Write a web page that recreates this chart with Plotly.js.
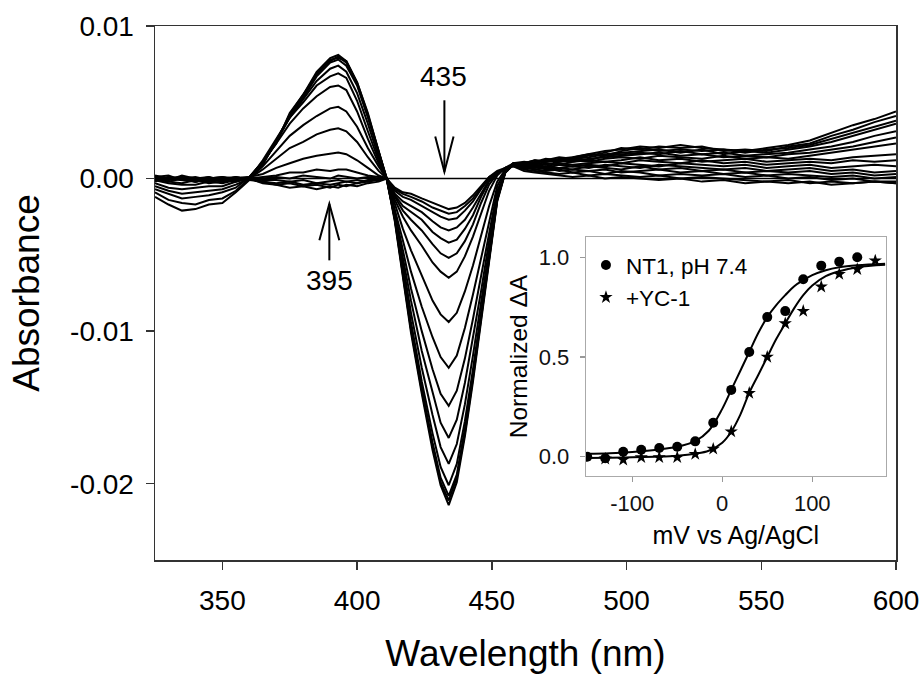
<!DOCTYPE html>
<html>
<head>
<meta charset="utf-8">
<script src="https://cdn.plot.ly/plotly-3.0.1.min.js"></script>
<style>html,body{margin:0;padding:0;background:#fff;}#chart{width:924px;height:675px;}</style>
</head>
<body>
<div id="chart"></div>
<script>
// ---------------- Main panel data: difference spectra (absorbance vs wavelength) ----------------
const wavelength = [325,330,335,340,345,350,355,360,
  365,370,375,380,385,390,393,396,400,404,408,411,
  414,417,420,424,428,431,434,437,440,443,446,449,452,455,458,
  462,466,470,475,480,486,492,498,505,512,520,528,536,544,552,560,568,576,584,592,600];

const spec01 = [-.0012,-.0017,-.0021,-.0020,-.0017,-.0016,-.0009,-.0001,
  .0010,.0024,.0042,.0055,.0070,.0079,.0081,.0077,.0063,.0042,.0018,.0000,
  -.0028,-.0064,-.0101,-.0141,-.0178,-.0201,-.0214,-.0199,-.0169,-.0133,-.0094,-.0053,-.0015,.0004,.0009,
  .0010,.0012,.0011,.0013,.0014,.0016,.0018,.0019,.0021,.0020,.0022,.0020,.0019,.0018,.0020,.0022,.0025,.0030,.0035,.0039,.0044];
const spec02 = [-.0009,-.0014,-.0016,-.0017,-.0014,-.0013,-.0008,.0000,
  .0009,.0025,.0041,.0054,.0069,.0077,.0080,.0076,.0062,.0041,.0017,.0000,
  -.0027,-.0062,-.0099,-.0139,-.0175,-.0199,-.0211,-.0196,-.0167,-.0131,-.0093,-.0052,-.0014,.0004,.0010,
  .0011,.0010,.0012,.0014,.0013,.0015,.0017,.0020,.0019,.0021,.0020,.0021,.0018,.0019,.0018,.0021,.0023,.0028,.0032,.0037,.0041];
const spec03 = [-.0007,-.0010,-.0013,-.0012,-.0011,-.0009,-.0006,.0001,
  .0011,.0023,.0043,.0055,.0068,.0078,.0079,.0077,.0063,.0043,.0018,-.0001,
  -.0026,-.0061,-.0098,-.0137,-.0173,-.0196,-.0208,-.0194,-.0164,-.0129,-.0091,-.0051,-.0014,.0005,.0009,
  .0009,.0011,.0013,.0012,.0014,.0016,.0015,.0018,.0020,.0018,.0019,.0018,.0019,.0017,.0019,.0020,.0022,.0026,.0030,.0034,.0038];
const spec04 = [-.0005,-.0008,-.0010,-.0009,-.0008,-.0007,-.0004,.0000,
  .0010,.0024,.0040,.0053,.0067,.0076,.0078,.0074,.0061,.0040,.0017,.0000,
  -.0026,-.0059,-.0094,-.0133,-.0167,-.0189,-.0201,-.0187,-.0159,-.0125,-.0088,-.0049,-.0013,.0004,.0010,
  .0010,.0012,.0011,.0012,.0013,.0014,.0016,.0017,.0018,.0019,.0017,.0019,.0016,.0018,.0017,.0019,.0021,.0024,.0028,.0032,.0036];
const spec05 = [-.0003,-.0006,-.0007,-.0006,-.0005,-.0005,-.0002,.0001,
  .0011,.0025,.0040,.0052,.0064,.0072,.0074,.0070,.0056,.0036,.0014,.0000,
  -.0025,-.0056,-.0088,-.0124,-.0155,-.0176,-.0187,-.0174,-.0148,-.0116,-.0082,-.0046,-.0012,.0005,.0009,
  .0009,.0010,.0012,.0011,.0013,.0012,.0015,.0016,.0017,.0016,.0018,.0016,.0017,.0015,.0016,.0017,.0019,.0021,.0024,.0028,.0031];
const spec06 = [-.0001,-.0003,-.0004,-.0004,-.0002,-.0003,-.0001,.0000,
  .0012,.0026,.0040,.0050,.0061,.0067,.0069,.0066,.0051,.0031,.0012,.0000,
  -.0023,-.0052,-.0080,-.0113,-.0141,-.0160,-.0170,-.0158,-.0134,-.0105,-.0074,-.0041,-.0010,.0004,.0010,
  .0010,.0009,.0011,.0012,.0011,.0013,.0014,.0015,.0016,.0017,.0015,.0016,.0014,.0015,.0014,.0016,.0017,.0019,.0021,.0024,.0027];
const spec07 = [.0000,-.0002,-.0003,-.0001,-.0003,-.0002,.0000,.0001,
  .0011,.0023,.0036,.0046,.0054,.0060,.0061,.0058,.0044,.0026,.0010,.0000,
  -.0022,-.0047,-.0072,-.0100,-.0125,-.0141,-.0149,-.0139,-.0118,-.0092,-.0064,-.0035,-.0008,.0004,.0009,
  .0008,.0010,.0009,.0011,.0012,.0011,.0013,.0014,.0013,.0015,.0014,.0013,.0015,.0013,.0014,.0013,.0015,.0017,.0019,.0021,.0023];
const spec08 = [.0001,-.0001,.0000,-.0002,-.0001,.0000,-.0001,.0000,
  .0008,.0018,.0028,.0035,.0041,.0046,.0047,.0044,.0034,.0020,.0008,.0000,
  -.0020,-.0041,-.0061,-.0084,-.0104,-.0117,-.0124,-.0116,-.0098,-.0076,-.0052,-.0027,-.0005,.0005,.0009,
  .0009,.0008,.0010,.0009,.0011,.0012,.0011,.0012,.0014,.0012,.0013,.0011,.0012,.0013,.0011,.0012,.0013,.0012,.0014,.0015,.0016];
const spec09 = [-.0001,.0001,-.0001,.0000,-.0002,-.0001,.0001,.0000,
  .0006,.0013,.0020,.0024,.0029,.0032,.0033,.0031,.0024,.0014,.0005,.0000,
  -.0017,-.0033,-.0047,-.0064,-.0080,-.0089,-.0094,-.0088,-.0074,-.0057,-.0038,-.0018,-.0002,.0006,.0010,
  .0008,.0009,.0008,.0010,.0009,.0010,.0011,.0010,.0012,.0011,.0010,.0012,.0010,.0011,.0009,.0010,.0011,.0010,.0012,.0011,.0012];
const spec10 = [.0002,.0000,.0001,-.0001,.0000,-.0002,.0000,.0001,
  .0003,.0007,.0010,.0013,.0015,.0016,.0017,.0016,.0012,.0007,.0002,.0000,
  -.0014,-.0025,-.0034,-.0044,-.0055,-.0061,-.0065,-.0061,-.0051,-.0038,-.0023,-.0008,.0002,.0007,.0009,
  .0007,.0008,.0007,.0009,.0008,.0009,.0008,.0010,.0009,.0008,.0010,.0009,.0008,.0009,.0007,.0008,.0009,.0007,.0008,.0009,.0008];
const spec11 = [.0000,-.0002,.0000,.0001,-.0001,.0000,-.0001,.0000,
  .0001,.0002,.0004,.0004,.0006,.0005,.0006,.0006,.0004,.0002,.0001,.0000,
  -.0012,-.0021,-.0027,-.0034,-.0043,-.0049,-.0052,-.0049,-.0041,-.0030,-.0016,-.0004,.0003,.0007,.0010,
  .0008,.0007,.0008,.0007,.0008,.0007,.0009,.0008,.0007,.0009,.0008,.0007,.0006,.0007,.0005,.0006,.0007,.0005,.0006,.0004,.0005];
const spec12 = [.0001,.0000,-.0001,-.0002,.0000,.0001,.0000,-.0001,
  .0000,.0001,.0000,.0002,.0001,.0000,.0002,.0001,.0000,.0001,.0000,.0000,
  -.0011,-.0018,-.0022,-.0027,-.0035,-.0039,-.0042,-.0040,-.0033,-.0024,-.0012,-.0002,.0003,.0007,.0009,
  .0007,.0008,.0006,.0007,.0006,.0008,.0007,.0006,.0008,.0006,.0007,.0005,.0006,.0004,.0005,.0004,.0005,.0003,.0004,.0002,.0003];
const spec13 = [-.0002,.0001,.0000,-.0001,.0001,-.0001,-.0002,.0000,
  -.0001,-.0001,-.0002,-.0001,-.0003,-.0002,-.0001,-.0002,-.0001,-.0002,.0000,.0000,
  -.0010,-.0015,-.0018,-.0022,-.0028,-.0032,-.0034,-.0032,-.0027,-.0019,-.0010,-.0001,.0004,.0006,.0009,
  .0008,.0006,.0007,.0005,.0006,.0005,.0006,.0004,.0005,.0006,.0004,.0005,.0003,.0004,.0002,.0003,.0002,.0001,.0002,.0000,.0001];
const spec14 = [.0000,-.0001,.0002,.0000,-.0002,.0000,.0001,-.0001,
  -.0002,-.0003,-.0002,-.0004,-.0003,-.0004,-.0003,-.0002,-.0003,-.0001,-.0001,.0000,
  -.0008,-.0012,-.0014,-.0018,-.0022,-.0025,-.0027,-.0026,-.0021,-.0015,-.0007,.0000,.0004,.0007,.0008,
  .0007,.0006,.0005,.0006,.0004,.0005,.0003,.0005,.0004,.0002,.0003,.0002,.0003,.0001,.0002,.0000,.0001,-.0001,.0000,-.0002,-.0002];
const spec15 = [.0001,.0002,-.0001,.0000,.0001,-.0002,.0000,.0000,
  -.0002,-.0004,-.0003,-.0005,-.0004,-.0006,-.0004,-.0005,-.0003,-.0002,-.0001,.0000,
  -.0007,-.0010,-.0012,-.0015,-.0019,-.0021,-.0023,-.0022,-.0018,-.0013,-.0006,.0001,.0004,.0006,.0009,
  .0006,.0005,.0004,.0003,.0004,.0002,.0003,.0002,.0001,.0002,.0000,.0001,.0000,-.0001,-.0002,-.0001,-.0003,-.0002,-.0003,-.0002,-.0003];
const spec16 = [-.0001,.0000,.0001,-.0002,.0000,.0001,-.0001,.0000,
  -.0003,-.0004,-.0006,-.0005,-.0007,-.0005,-.0006,-.0004,-.0005,-.0003,-.0002,.0000,
  -.0006,-.0009,-.0010,-.0013,-.0016,-.0018,-.0020,-.0019,-.0016,-.0011,-.0005,.0001,.0005,.0007,.0008,
  .0005,.0004,.0003,.0002,.0001,.0002,.0000,.0001,.0000,-.0001,.0000,-.0002,-.0001,-.0003,-.0002,-.0003,-.0002,-.0004,-.0003,-.0002,-.0003];

const baselineX = [325, 600];
const baselineY = [0, 0];

const mainXTicks = [350, 400, 450, 500, 550, 600];
const mainYTicks = [-0.02, -0.01, 0, 0.01];
const mainYTickText = ['-0.02', '-0.01', '0.00', '0.01'];

// ---------------- Inset data: normalized ΔA vs potential ----------------
const nt1Potential = [-150,-130,-110,-90,-70,-50,-30,-10,10,30,50,70,90,110,130,150];
const nt1DeltaA = [0.0,-0.008,0.025,0.035,0.044,0.05,0.077,0.17,0.335,0.525,0.70,0.73,0.89,0.958,0.978,1.0];
const yc1Potential = [-130,-110,-90,-70,-50,-30,-10,10,30,50,70,90,110,130,150,170];
const yc1DeltaA = [-0.01,-0.015,-0.003,-0.003,-0.003,0.013,0.039,0.126,0.319,0.50,0.668,0.73,0.852,0.915,0.94,0.983];

const fitPotential = [-151,-125,-100,-75,-50,-30,-15,0,10,20,30,40,50,60,70,80,90,100,115,130,150,181];
const nt1Fit = [0.015,0.018,0.024,0.034,0.05,0.078,0.13,0.24,0.335,0.43,0.525,0.62,0.70,0.76,0.81,0.855,0.885,0.91,0.935,0.95,0.96,0.968];
const yc1Fit = [-0.006,-0.005,-0.003,0.0,0.005,0.015,0.03,0.07,0.125,0.21,0.32,0.41,0.50,0.59,0.668,0.745,0.81,0.858,0.905,0.93,0.95,0.962];

const insetXTicks = [-100, 0, 100];
const insetXTickText = ['-100', '0', '100'];
const insetYTicks = [0, 0.5, 1.0];
const insetYTickText = ['0.0', '0.5', '1.0'];

// ---------------- Build traces ----------------
const FONT = 'Liberation Sans, Arial, Helvetica, sans-serif';
const spectra = [spec01,spec02,spec03,spec04,spec05,spec06,spec07,spec08,spec09,spec10,spec11,spec12,spec13,spec14,spec15,spec16];
const traces = [];
traces.push({x: baselineX, y: baselineY, mode: 'lines', line: {color: '#000', width: 1.6}, showlegend: false, hoverinfo: 'skip'});
spectra.forEach(s => traces.push({
  x: wavelength, y: s, mode: 'lines', line: {color: '#000', width: 2}, showlegend: false, hoverinfo: 'skip'
}));

traces.push({x: fitPotential, y: nt1Fit, xaxis: 'x2', yaxis: 'y2', mode: 'lines', line: {color: '#000', width: 2, shape: 'spline'}, showlegend: false});
traces.push({x: fitPotential, y: yc1Fit, xaxis: 'x2', yaxis: 'y2', mode: 'lines', line: {color: '#000', width: 2, shape: 'spline'}, showlegend: false});
traces.push({x: nt1Potential, y: nt1DeltaA, xaxis: 'x2', yaxis: 'y2', mode: 'markers', name: 'NT1, pH 7.4',
  marker: {symbol: 'circle', size: 10, color: '#000'}});
traces.push({x: yc1Potential, y: yc1DeltaA, xaxis: 'x2', yaxis: 'y2', mode: 'markers', name: '+YC-1',
  marker: {symbol: 'star', size: 10, color: '#000'}});

// arrows (positions in data units of the main panel)
const arrowLine = {color: '#000', width: 2};
const shapes = [
  {type: 'line', xref: 'x', yref: 'y', x0: 432.4, x1: 432.4, y0: 0.00513, y1: 0.00045, line: arrowLine},
  {type: 'path', xref: 'x', yref: 'y', path: 'M 429.0,0.00275 L 432.4,0.00045 L 435.8,0.00275', line: arrowLine},
  {type: 'line', xref: 'x', yref: 'y', x0: 389.7, x1: 389.7, y0: -0.00536, y1: -0.00166, line: arrowLine},
  {type: 'path', xref: 'x', yref: 'y', path: 'M 386.0,-0.00405 L 389.7,-0.00166 L 393.4,-0.00405', line: arrowLine}
];

const annotations = [
  {x: 432.1, y: 0.00666, xref: 'x', yref: 'y', text: '435', showarrow: false, font: {family: FONT, size: 28, color: '#000'}, xanchor: 'center', yanchor: 'middle'},
  {x: 389.7, y: -0.00667, xref: 'x', yref: 'y', text: '395', showarrow: false, font: {family: FONT, size: 28, color: '#000'}, xanchor: 'center', yanchor: 'middle'}
];

const layout = {
  width: 924, height: 675,
  margin: {l: 155, r: 28, t: 26, b: 115},
  paper_bgcolor: '#fff', plot_bgcolor: '#fff',
  font: {family: FONT, color: '#000'},
  showlegend: true,
  legend: {x: 0.5816, y: 0.592, xanchor: 'left', yanchor: 'top', bgcolor: 'rgba(0,0,0,0)',
    font: {family: FONT, size: 22.5, color: '#000'}, itemwidth: 30, tracegroupgap: 0},
  xaxis: {
    domain: [0, 1], range: [325, 600], tickvals: mainXTicks, ticks: 'outside', ticklen: 8, tickwidth: 1.5,
    tickcolor: '#333', linecolor: '#333', linewidth: 1.5, mirror: true, showgrid: false, zeroline: false,
    tickfont: {family: FONT, size: 28, color: '#000'}, ticklabelstandoff: 7,
    title: {text: 'Wavelength (nm)', font: {family: FONT, size: 37, color: '#000'}, standoff: 25}
  },
  yaxis: {
    domain: [0, 1], range: [-0.025, 0.01], tickvals: mainYTicks, ticktext: mainYTickText, ticks: 'outside', ticklen: 8, tickwidth: 1.5,
    tickcolor: '#333', linecolor: '#333', linewidth: 1.5, mirror: true, showgrid: false, zeroline: false,
    tickfont: {family: FONT, size: 28, color: '#000'}, ticklabelstandoff: 6,
    title: {text: 'Absorbance', font: {family: FONT, size: 37, color: '#000'}, standoff: 19}
  },
  xaxis2: {
    domain: [0.5816, 0.9861], anchor: 'y2', range: [-151.4, 181.6], tickvals: insetXTicks, ticktext: insetXTickText,
    ticks: 'outside', ticklen: 5, tickwidth: 1.2, tickcolor: '#999', linecolor: '#aaa', linewidth: 1.2, mirror: true,
    showgrid: false, zeroline: false, tickfont: {family: FONT, size: 22, color: '#111'}, ticklabelstandoff: 3,
    title: {text: 'mV vs Ag/AgCl', font: {family: FONT, size: 25, color: '#000'}, standoff: 11}
  },
  yaxis2: {
    domain: [0.1579, 0.6043], anchor: 'x2', range: [-0.095, 1.1], tickvals: insetYTicks, ticktext: insetYTickText,
    ticks: 'outside', ticklen: 5, tickwidth: 1.2, tickcolor: '#999', linecolor: '#aaa', linewidth: 1.2, mirror: true,
    showgrid: false, zeroline: false, tickfont: {family: FONT, size: 22, color: '#111'}, ticklabelstandoff: 6,
    title: {text: 'Normalized ΔA', font: {family: FONT, size: 24.5, color: '#000'}, standoff: 4}
  },
  shapes: shapes,
  annotations: annotations
};

Plotly.newPlot('chart', traces, layout, {staticPlot: true, displayModeBar: false});
</script>
</body>
</html>
